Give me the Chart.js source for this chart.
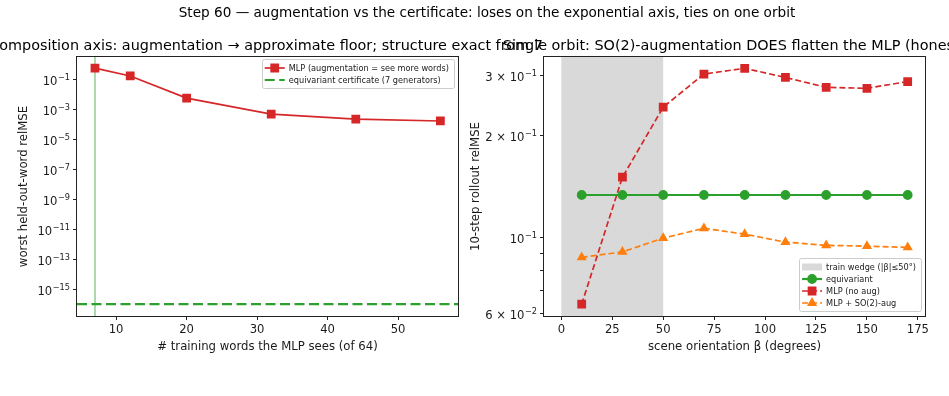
<!DOCTYPE html>
<html>
<head>
<meta charset="utf-8">
<script src="https://cdn.jsdelivr.net/npm/chart.js@4.4.1/dist/chart.umd.min.js"></script>
<style>
  html, body { margin: 0; padding: 0; background: #fff; overflow: hidden; width: 949px; height: 396px; }
  .t { position: absolute; white-space: nowrap; font-family: "DejaVu Sans"; color: #000; transform: translate(-50%, -50%); }
  #left { position: absolute; left: 0; top: 0; }
  #right { position: absolute; left: 460px; top: 0; }
</style>
</head>
<body>
<canvas id="left" width="474" height="396"></canvas>
<canvas id="right" width="489" height="396"></canvas>
<div class="t" style="left:487px;top:12px;font-size:13.6px">Step 60 — augmentation vs the certificate: loses on the exponential axis, ties on one orbit</div>
<div class="t" style="left:266px;top:45px;font-size:14.4px">Composition axis: augmentation → approximate floor; structure exact from 7</div>
<div class="t" style="left:734px;top:45px;font-size:14.4px">Single orbit: SO(2)-augmentation DOES flatten the MLP (honest)</div>
<script>
// left panel: composition axis
const wordsSeen = [7, 12, 20, 32, 44, 56];
const mlpAugWorst = [0.54, 0.16, 5.4e-3, 4.6e-4, 2.1e-4, 1.6e-4];
const certificateFloor = 1e-16;
const structureExactFrom = 7;
const leftXTicks = [10, 20, 30, 40, 50];
const leftYTicks = [1e-1, 1e-3, 1e-5, 1e-7, 1e-9, 1e-11, 1e-13, 1e-15];
const leftYTickLabels = [['', '-1'], ['', '-3'], ['', '-5'], ['', '-7'], ['', '-9'], ['', '-11'], ['', '-13'], ['', '-15']];

// right panel: single orbit
const orientations = [10, 30, 50, 70, 90, 110, 130, 150, 170];
const equivariantRollout = [0.1336, 0.1336, 0.1336, 0.1336, 0.1336, 0.1336, 0.1336, 0.1336, 0.1336];
const mlpNoAug = [0.0638, 0.1507, 0.242, 0.303, 0.315, 0.296, 0.277, 0.275, 0.288];
const mlpSo2Aug = [0.0876, 0.0909, 0.0998, 0.1066, 0.1025, 0.0971, 0.095, 0.0945, 0.0937];
const trainWedge = [0, 50];
const rightXTicks = [0, 25, 50, 75, 100, 125, 150, 175];
const rightYTicks = [0.06, 0.07, 0.08, 0.09, 0.1, 0.2, 0.3];
const rightYTickLabels = [['6', '-2'], null, null, null, ['', '-1'], ['2', '-1'], ['3', '-1']];

const RED = '#d62728', GREEN = '#2ca02c', ORANGE = '#ff7f0e';
const FONT = 'DejaVu Sans';
const TICK_PX = 11.6, SUP_PX = 8.2, LABEL_PX = 11.7, LEGEND_PX = 8.2;
function pts(xs, ys) { return xs.map((x, i) => ({ x: x, y: ys[i] })); }

// "m × 10^e" tick label, mathtext style, right aligned at xr
function drawPow(ctx, xr, y, mant, exp) {
    const base = (mant ? mant + ' × ' : '') + '10';
    const sup = exp.replace('-', '−');
    ctx.font = TICK_PX + 'px "' + FONT + '"';
    const wb = ctx.measureText(base).width;
    ctx.font = SUP_PX + 'px "' + FONT + '"';
    const ws = ctx.measureText(sup).width;
    const x0 = xr - wb - ws - 0.5;
    const baseline = y + 5.2;
    ctx.textAlign = 'left';
    ctx.textBaseline = 'alphabetic';
    ctx.fillStyle = '#1a1a1a';
    ctx.font = TICK_PX + 'px "' + FONT + '"';
    ctx.fillText(base, x0, baseline);
    ctx.font = SUP_PX + 'px "' + FONT + '"';
    ctx.fillText(sup, x0 + wb + 0.5, baseline - 5.2);
}

// axvspan, spines, log tick labels and an in-axes legend, matplotlib style
const mplPlugin = {
    id: 'mpl',
    beforeDatasetsDraw(chart, args, opts) {
        if (!opts.span) return;
        const { ctx, chartArea: a, scales: { x } } = chart;
        const x0 = x.getPixelForValue(opts.span[0]), x1 = x.getPixelForValue(opts.span[1]);
        ctx.save();
        ctx.fillStyle = '#d9d9d9';
        ctx.fillRect(x0, a.top, x1 - x0, a.bottom - a.top);
        ctx.restore();
    },
    afterDatasetsDraw(chart, args, opts) {
        const { ctx, chartArea: a, scales: { y } } = chart;
        ctx.save();
        ctx.strokeStyle = '#222';
        ctx.lineWidth = 1;
        ctx.strokeRect(Math.round(a.left) - 0.5, Math.round(a.top) - 0.5, Math.round(a.right - a.left) + 1, Math.round(a.bottom - a.top) + 1);

        // y tick labels with superscripts
        opts.yTicks.forEach((v, i) => {
            const lab = opts.yLabels[i];
            if (lab) drawPow(ctx, a.left - 7, y.getPixelForValue(v) + 0.5, lab[0], lab[1]);
        });

        // legend
        const items = [];
        if (opts.spanLabel) items.push({ patch: true, label: opts.spanLabel });
        chart.data.datasets.forEach(d => { if (d.inLegend) items.push(d); });
        ctx.font = LEGEND_PX + 'px "' + FONT + '"';
        let tw = 0;
        items.forEach(it => { tw = Math.max(tw, ctx.measureText(it.label).width); });
        const rowH = 12, w = 3 + 20 + 4 + tw + 5, h = 3 + rowH * items.length + 2;
        const right = a.right - 4;
        const top = opts.legendBottom ? a.bottom - 5 - h : a.top + 2;
        const left = right - w;
        ctx.fillStyle = 'rgba(255,255,255,0.85)';
        ctx.strokeStyle = '#cccccc';
        ctx.lineWidth = 1;
        ctx.beginPath();
        ctx.roundRect(Math.round(left) + 0.5, top + 0.5, Math.round(w), h, 2);
        ctx.fill();
        ctx.stroke();
        items.forEach((it, i) => {
            const cy = top + 3 + rowH / 2 + i * rowH;
            const sx = left + 3;
            if (it.patch) {
                ctx.fillStyle = '#d9d9d9';
                ctx.fillRect(sx, cy - 3.5, 20, 7);
            } else {
                ctx.strokeStyle = it.borderColor;
                ctx.lineWidth = it.borderWidth;
                ctx.setLineDash(it.borderDash || []);
                ctx.beginPath();
                ctx.moveTo(sx, cy);
                ctx.lineTo(sx + 20, cy);
                ctx.stroke();
                ctx.setLineDash([]);
                if (it.pointRadius > 0) {
                    ctx.fillStyle = it.pointBackgroundColor;
                    ctx.strokeStyle = it.pointBorderColor;
                    Chart.helpers.drawPoint(ctx, { pointStyle: it.pointStyle, rotation: 0, radius: it.pointRadius, borderWidth: 1 }, sx + 10, cy);
                }
            }
            ctx.fillStyle = '#1a1a1a';
            ctx.textBaseline = 'middle';
            ctx.textAlign = 'left';
            ctx.font = LEGEND_PX + 'px "' + FONT + '"';
            ctx.fillText(it.label, sx + 24, cy + 0.5);
        });
        ctx.restore();
    }
};

function axisX(min, max, ticks, title) {
    return {
        type: 'linear', min: min, max: max,
        afterBuildTicks: s => { s.ticks = ticks.map(v => ({ value: v })); },
        afterFit: s => { s.height = 40; },
        grid: { drawOnChartArea: false, drawTicks: true, tickLength: 4, color: '#222' },
        border: { display: false },
        ticks: { autoSkip: false, maxRotation: 0, padding: 3, color: '#1a1a1a', font: { family: FONT, size: TICK_PX } },
        title: { display: true, text: title, color: '#1a1a1a', font: { family: FONT, size: LABEL_PX }, padding: { top: 0, bottom: 2 } }
    };
}
function axisY(min, max, ticks, title, width, titlePad) {
    return {
        type: 'logarithmic', min: min, max: max,
        afterBuildTicks: s => { s.ticks = ticks.map(v => ({ value: v })); },
        afterFit: s => { s.width = width; },
        grid: { drawOnChartArea: false, drawTicks: true, tickLength: 4, color: '#222' },
        border: { display: false },
        // labels are drawn by mplPlugin so the exponents can be real superscripts
        ticks: { autoSkip: false, padding: 3, callback: () => '' },
        title: { display: true, text: title, color: '#1a1a1a', font: { family: FONT, size: LABEL_PX }, padding: { top: titlePad, bottom: 0 } }
    };
}

const leftXMin = 4.45, leftXMax = 58.5, leftYMin = 1.6e-17, leftYMax = 2.95;

new Chart(document.getElementById('left'), {
    type: 'line',
    data: {
        datasets: [
            {
                label: 'MLP (augmentation = see more words)', inLegend: true,
                data: pts(wordsSeen, mlpAugWorst),
                borderColor: RED, borderWidth: 1.7,
                pointStyle: 'rect', pointRadius: 5, pointBackgroundColor: RED, pointBorderColor: RED
            },
            {
                label: 'equivariant certificate (7 generators)', inLegend: true,
                data: [{ x: leftXMin, y: certificateFloor }, { x: leftXMax, y: certificateFloor }],
                borderColor: GREEN, borderWidth: 2.2, borderDash: [10, 4.5], pointRadius: 0
            },
            {
                label: 'structure exact from',
                data: [{ x: structureExactFrom, y: leftYMin }, { x: structureExactFrom, y: leftYMax }],
                borderColor: 'rgba(44,160,44,0.4)', borderWidth: 2, pointRadius: 0
            }
        ]
    },
    options: {
        responsive: false, animation: false,
        layout: { padding: { left: 0, right: 16, top: 57, bottom: 40 } },
        plugins: {
            legend: { display: false }, tooltip: { enabled: false },
            mpl: { yTicks: leftYTicks, yLabels: leftYTickLabels }
        },
        scales: {
            x: axisX(leftXMin, leftXMax, leftXTicks, '# training words the MLP sees (of 64)'),
            y: axisY(leftYMin, leftYMax, leftYTicks, 'worst held-out-word relMSE', 77, 17)
        }
    },
    plugins: [mplPlugin]
});

new Chart(document.getElementById('right'), {
    type: 'line',
    data: {
        datasets: [
            {
                label: 'equivariant', inLegend: true,
                data: pts(orientations, equivariantRollout),
                borderColor: GREEN, borderWidth: 2.2,
                pointStyle: 'circle', pointRadius: 3.8, pointBackgroundColor: GREEN, pointBorderColor: GREEN
            },
            {
                label: 'MLP (no aug)', inLegend: true,
                data: pts(orientations, mlpNoAug),
                borderColor: RED, borderWidth: 1.7, borderDash: [6, 3],
                pointStyle: 'rect', pointRadius: 5, pointBackgroundColor: RED, pointBorderColor: RED
            },
            {
                label: 'MLP + SO(2)-aug', inLegend: true,
                data: pts(orientations, mlpSo2Aug),
                borderColor: ORANGE, borderWidth: 1.7, borderDash: [6, 3],
                pointStyle: 'triangle', pointRadius: 4.2, pointBackgroundColor: ORANGE, pointBorderColor: ORANGE
            }
        ]
    },
    options: {
        responsive: false, animation: false,
        layout: { padding: { left: 0, right: 24, top: 57, bottom: 40 } },
        plugins: {
            legend: { display: false }, tooltip: { enabled: false },
            mpl: { yTicks: rightYTicks, yLabels: rightYTickLabels, span: trainWedge, spanLabel: 'train wedge (|β|≤50°)', legendBottom: true }
        },
        scales: {
            x: axisX(-8.5, 178.5, rightXTicks, 'scene orientation β (degrees)'),
            y: axisY(0.0589, 0.34, rightYTicks, '10-step rollout relMSE', 84, 9)
        }
    },
    plugins: [mplPlugin]
});
</script>
</body>
</html>
